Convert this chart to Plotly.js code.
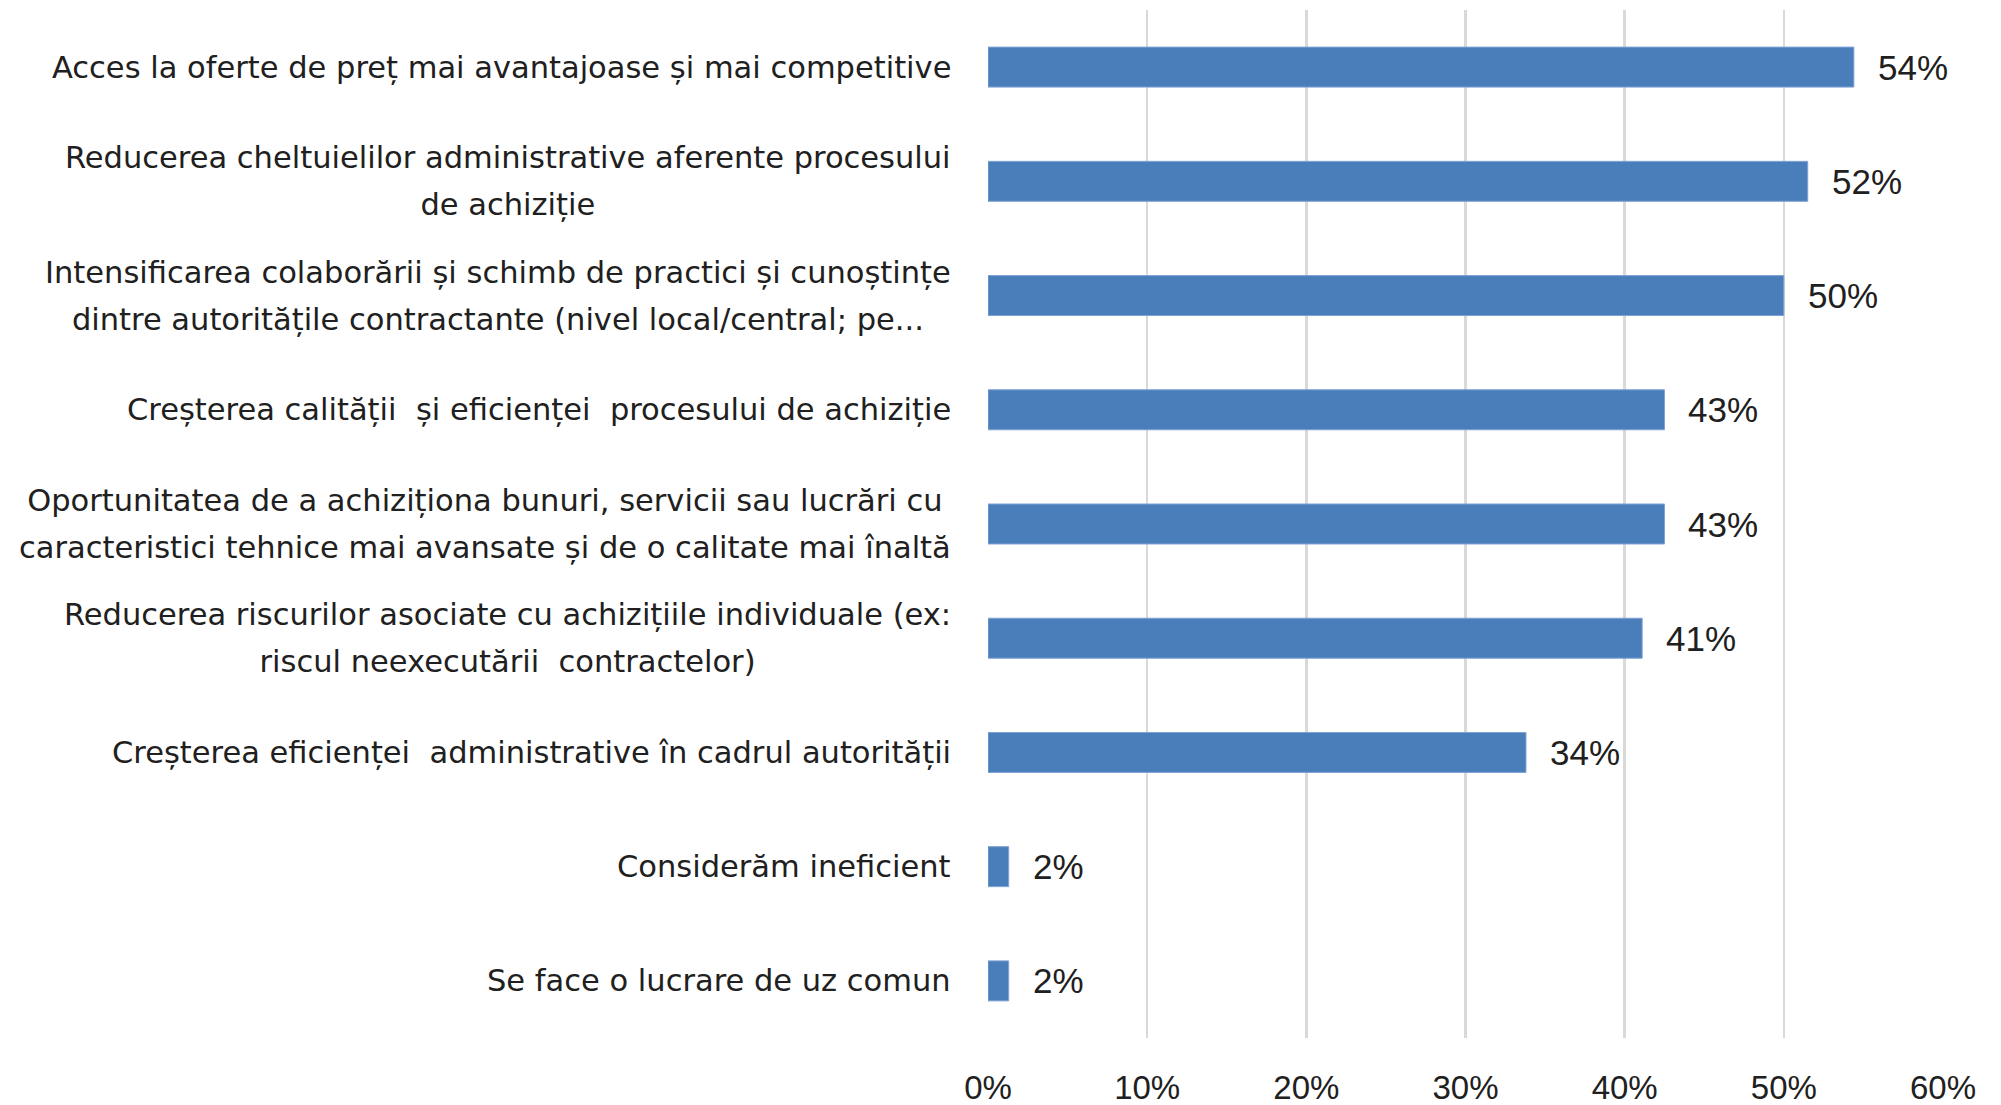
<!DOCTYPE html>
<html>
<head>
<meta charset="utf-8">
<script src="https://cdn.plot.ly/plotly-3.0.1.min.js"></script>
<style>
  html, body { margin: 0; padding: 0; background: #ffffff; }
  #chart { width: 2001px; height: 1105px; }
</style>
</head>
<body>
<div id="chart"></div>
<script>
// Category labels (top to bottom), line breaks as in the reference
const categories = [
  "Acces la oferte de preț mai avantajoase și mai competitive",
  "Reducerea cheltuielilor administrative aferente procesului<br>de achiziție",
  "Intensificarea colaborării și schimb de practici și cunoștințe<br>dintre autoritățile contractante (nivel local/central; pe...",
  "Creșterea calității  și eficienței  procesului de achiziție",
  "Oportunitatea de a achiziționa bunuri, servicii sau lucrări cu<br>caracteristici tehnice mai avansate și de o calitate mai înaltă",
  "Reducerea riscurilor asociate cu achizițiile individuale (ex:<br>riscul neexecutării  contractelor)",
  "Creșterea eficienței  administrative în cadrul autorității",
  "Considerăm ineficient",
  "Se face o lucrare de uz comun"
];
// Bar lengths in percent
const values = [54.4, 51.5, 50.0, 42.5, 42.5, 41.1, 33.8, 1.3, 1.3];
// Data labels as printed
const valueLabels = ["54%", "52%", "50%", "43%", "43%", "41%", "34%", "2%", "2%"];
// X axis ticks
const tickValues = [0, 10, 20, 30, 40, 50, 60];
const tickLabels = ["0%", "10%", "20%", "30%", "40%", "50%", "60%"];

const FONT = "'Liberation Sans', Arial, sans-serif";
const LABEL_FONT = "'DejaVu Sans', 'Liberation Sans', sans-serif";
const TEXT_COLOR = "#202020";

const trace = {
  type: "bar",
  orientation: "h",
  x: values,
  y: categories,
  width: 0.35,
  marker: { color: "#4a7ebb", line: { color: "#7fa3d4", width: 1 } },
  hoverinfo: "none"
};

const annotations = [];
categories.forEach((c, i) => {
  const lines = c.split("<br>").map(s => '<span style="font-size:30.5px">' + s + '</span>');
  annotations.push({
    xref: "paper", yref: "y",
    x: 0, y: c,
    xanchor: "right", yanchor: "middle",
    xshift: -35,
    align: "center",
    showarrow: false,
    text: lines.join("<br>"),
    font: { family: LABEL_FONT, size: 36, color: TEXT_COLOR }
  });
  annotations.push({
    xref: "x", yref: "y",
    x: values[i], y: c,
    xanchor: "left", yanchor: "middle",
    xshift: 22,
    showarrow: false,
    text: valueLabels[i],
    font: { family: FONT, size: 35, color: TEXT_COLOR }
  });
});

const layout = {
  width: 2001,
  height: 1105,
  margin: { l: 988, r: 58, t: 10, b: 67 },
  paper_bgcolor: "#ffffff",
  plot_bgcolor: "#ffffff",
  showlegend: false,
  bargap: 0.65,
  xaxis: {
    range: [0, 60],
    tickvals: tickValues,
    ticktext: tickLabels,
    showgrid: true,
    gridcolor: "#d9d9d9",
    gridwidth: 2.5,
    zeroline: false,
    showline: false,
    ticks: "",
    ticklabelstandoff: 27,
    tickfont: { family: FONT, size: 33, color: TEXT_COLOR },
    fixedrange: true
  },
  yaxis: {
    type: "category",
    categoryorder: "array",
    categoryarray: categories,
    autorange: "reversed",
    showticklabels: false,
    showgrid: false,
    zeroline: false,
    showline: false,
    ticks: "",
    fixedrange: true
  },
  annotations: annotations
};

Plotly.newPlot("chart", [trace], layout, { staticPlot: true, displayModeBar: false });
</script>
</body>
</html>
